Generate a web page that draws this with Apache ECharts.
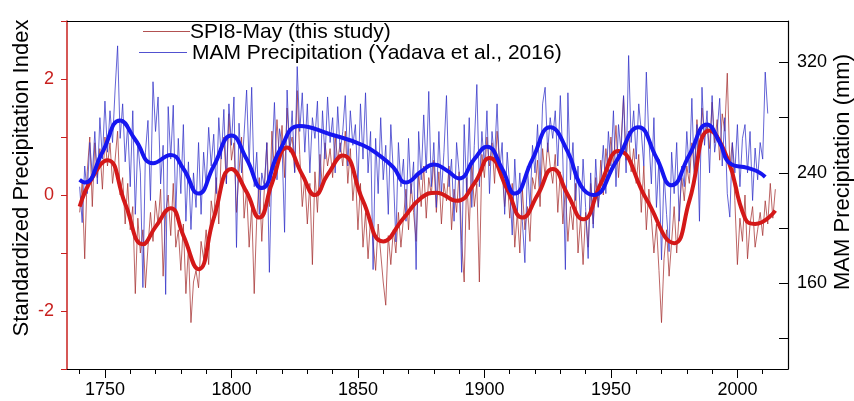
<!DOCTYPE html>
<html>
<head>
<meta charset="utf-8">
<script src="https://cdn.jsdelivr.net/npm/echarts@6/dist/echarts.min.js"></script>
<style>html,body{margin:0;padding:0;background:#fff}#c{width:854px;height:401px}</style>
</head>
<body>
<div id="c"></div>
<script>
// ---- data ----
var spiStartYear = 1740;
var spiValues = [
 -0.3, 0.2, -1.1, 0.4, 1.0, -0.2, 0.9, 0.3, 0.8, 0.1,
 1.0, 0.5, 0.9, 0.2, 0.6, 1.1, 0.0, 0.3, -0.5, 0.2,
 -0.6, -0.2, -1.7, -0.4, -1.0, -0.6, -1.6, -0.9, -0.3, -0.8,
 -0.1, -0.5, 0.1, -1.4, -0.3, 0.0, -0.7, 0.2, -0.9, -0.6,
 -1.3, -0.5, -1.7, -0.9, -2.2, -1.5, -1.3, -1.6, -0.8, -1.1,
 -0.6, -1.2, -0.1, -0.4, 0.3, -0.5, 0.8, 1.0, 0.2, 1.4,
 0.6, 0.9, -0.3, 0.4, 1.0, -0.4, 0.1, -0.9, -0.2, -1.7,
 -0.4, 0.3, -0.8, 0.1, 0.9, -0.2, 1.1, 0.4, 1.3, 0.6,
 1.2, 0.3, 1.5, 0.8, 1.0, 0.4, 1.8, 0.7, -0.2, 0.3,
 -0.5, 0.2, -1.2, 0.4, -0.3, 0.7, 0.1, 0.9, 0.5, 0.8,
 0.3, 1.0, 0.6, 0.9, 0.5, 1.1, 0.2, 0.8, -0.1, 0.4,
 -0.6, 0.2, -0.9, -0.3, -1.1, -0.4, -0.8, -1.3, -0.5, -1.0,
 -1.5, -1.9, -0.7, -1.2, -0.6, -1.0, -0.3, -0.9, -0.4, 0.1,
 -0.6, 0.2, -0.3, -0.8, 0.4, -0.2, 0.5, -0.4, 0.3, 0.0,
 0.6, -0.3, 0.4, -0.5, 0.2, -0.1, 0.5, -0.6, 0.1, -0.3,
 0.4, -0.8, -1.5, 0.3, -0.6, 0.6, -0.2, 0.2, -1.5, 0.7,
 0.3, 1.0, 0.5, 0.9, 0.2, 1.1, 0.6, 0.4, -0.2, 0.3,
 -0.4, 0.2, -0.9, -0.3, -1.0, 0.1, -0.6, -0.2, -0.8, 0.3,
 0.1, 0.6, -0.2, 0.8, 0.3, 0.9, 0.5, 0.2, 0.7, -0.3,
 0.4, -0.5, 0.1, -0.8, -0.2, -0.6, 0.2, -1.0, -0.4, -1.2,
 -0.3, -0.9, 0.2, -0.5, 0.3, -0.2, 0.6, 0.0, 0.8, 0.4,
 1.0, 0.5, 1.2, 0.3, 0.9, 1.7, 0.6, 1.1, 0.4, 0.8,
 0.2, 0.7, -0.3, 0.5, -0.6, 0.1, -0.4, -1.0, -0.5, -1.3,
 -2.2, -1.1, -0.6, -1.4, -0.8, -0.2, -1.0, -0.3, 0.3, -0.1,
 0.5, 0.2, 0.9, 0.4, 1.3, 0.7, 1.5, 1.0, 1.2, 0.8,
 1.6, 0.9, 1.3, 0.6, 1.4, 1.1, 2.1, 0.5, 0.9, -0.1,
 -1.2, -0.4, -0.8, 0.0, -1.1, -0.5, -0.2, -0.9, -0.6, -0.3,
 -0.7, -0.1, -0.5, 0.2, -0.4, 0.1
];
var mamStartYear = 1740;
var mamValues = [
 230, 204, 245, 225, 262, 238, 270, 232, 280, 250,
 292, 255, 285, 262, 300, 332, 265, 290, 248, 275,
 230, 285, 210, 262, 240, 157, 255, 278, 220, 306,
 270, 295, 232, 260, 152, 288, 250, 289, 210, 265,
 225, 275, 205, 248, 199, 240, 215, 262, 210, 255,
 230, 273, 245, 268, 225, 280, 250, 286, 232, 290,
 260, 295, 186, 276, 240, 268, 300, 245, 302, 230,
 255, 210, 240, 230, 262, 168, 248, 291, 235, 272,
 260, 197, 300, 255, 285, 240, 317, 270, 298, 255,
 290, 240, 280, 265, 292, 230, 285, 250, 295, 262,
 280, 240, 288, 255, 270, 296, 245, 285, 260, 275,
 230, 290, 250, 298, 240, 270, 170, 265, 225, 280,
 235, 260, 210, 275, 240, 190, 262, 230, 250, 205,
 265, 225, 248, 170, 270, 235, 282, 240, 299, 230,
 262, 215, 270, 225, 255, 296, 230, 250, 205, 262,
 240, 168, 275, 225, 280, 215, 260, 304, 230, 270,
 245, 285, 225, 270, 250, 290, 240, 262, 210, 255,
 230, 195, 250, 212, 240, 205, 175, 245, 215, 260,
 240, 275, 230, 290, 302, 255, 280, 265, 285, 245,
 296, 250, 170, 298, 235, 262, 220, 245, 205, 250,
 215, 178, 240, 200, 250, 215, 235, 260, 225, 270,
 245, 285, 230, 275, 255, 296, 240, 325, 262, 285,
 250, 290, 270, 245, 313, 265, 232, 280, 215, 250,
 177, 240, 210, 183, 255, 225, 262, 205, 245, 230,
 270, 240, 294, 235, 275, 205, 302, 260, 285, 240,
 296, 255, 270, 294, 245, 280, 225, 208, 262, 240,
 275, 230, 265, 275, 240, 270, 220, 258, 235, 262,
 250, 313, 283
];
var spiSmoothYears = [1740,1745,1751,1758,1765,1770,1776,1781,1787,1793,1800,1806,1811,1816,1822,1828,1833,1838,1844,1852,1860,1868,1875,1881,1889,1896,1902,1909,1915,1921,1927,1933,1939,1946,1953,1964,1975,1981,1989,1996,2003,2007,2015];
var spiSmoothValues = [-0.2,0.3,0.6,-0.15,-0.85,-0.55,-0.23,-0.7,-1.28,-0.4,0.45,0.05,-0.39,0.2,0.82,0.35,0.0,0.35,0.68,-0.1,-0.8,-0.4,-0.05,0.04,-0.1,0.2,0.64,0.1,-0.39,0.0,0.45,0.0,-0.42,0.2,0.76,-0.07,-0.83,-0.1,1.11,0.64,-0.4,-0.5,-0.27];
var mamSmoothYears = [1740,1742,1749,1756,1762,1769,1776,1781,1787,1793,1800,1806,1812,1819,1827,1839,1852,1859,1864,1869,1875,1880,1885,1890,1896,1901,1907,1912,1919,1926,1933,1938,1943,1952,1961,1968,1974,1981,1988,1993,1997,2004,2008,2011];
var mamSmoothValues = [235,233,255,278,264,247,253,243,225,245,267,250,229,256,274,268,260,252,244,233,241,246,242,236,250,259,243,225,250,273,255,231,224,248,273,251,231,253,275,262,247,243.6,241,237];
var xMajorTicks = [1750,1800,1850,1900,1950,2000];
var xMinorTicks = [1740,1750,1760,1770,1780,1790,1800,1810,1820,1830,1840,1850,1860,1870,1880,1890,1900,1910,1920,1930,1940,1950,1960,1970,1980,1990,2000,2010];
var rightTicks = [120,160,200,240,280,320];
var rightLabels = [160,240,320];
var legendNames = ['SPI8-May (this study)', 'MAM Precipitation (Yadava et al., 2016)'];

function pairs(start, vals){ return vals.map(function(v,i){ return [start+i, v]; }); }
function zip(xs, ys){ return xs.map(function(x,i){ return [x, ys[i]]; }); }

var FONT = '"Liberation Sans", Arial, sans-serif';
var AXRED = '#c8201e';
var chart = echarts.init(document.getElementById('c'), null, {renderer:'canvas'});
chart.setOption({
  animation:false,
  grid:{left:67, right:66, top:21, bottom:32, containLabel:false},
  xAxis:[
    {type:'value', min:1735, max:2020, position:'bottom',
     axisLine:{onZero:false, lineStyle:{color:'#000', width:1.2}},
     axisTick:{customValues:xMajorTicks, length:9, lineStyle:{color:'#000'}},
     axisLabel:{customValues:xMajorTicks, color:'#000', fontSize:18, fontFamily:FONT, margin:12,
       formatter:function(v){ return String(v); }},
     splitLine:{show:false}},
    {type:'value', min:1735, max:2020, position:'bottom',
     axisLine:{show:false, onZero:false},
     axisTick:{customValues:xMinorTicks, length:5, lineStyle:{color:'#000'}},
     axisLabel:{show:false}, splitLine:{show:false}},
    {type:'value', min:1735, max:2020, position:'top',
     axisLine:{onZero:false, lineStyle:{color:'#000', width:1.2}},
     axisTick:{show:false}, axisLabel:{show:false}, splitLine:{show:false}}
  ],
  yAxis:[
    {type:'value', min:-3, max:3, interval:1, position:'left',
     axisLine:{show:true, onZero:false, lineStyle:{color:AXRED, width:1.5}},
     axisTick:{show:true, length:6, lineStyle:{color:AXRED}},
     axisLabel:{color:AXRED, fontSize:18, fontFamily:FONT, margin:13,
       formatter:function(v){ return (Math.round(v)%2===0) ? String(v) : ''; }},
     splitLine:{show:false}},
    {type:'value', min:98, max:350, position:'right',
     axisLine:{show:true, onZero:false, lineStyle:{color:'#000', width:1.2}},
     axisTick:{show:true, inside:true, length:9, customValues:rightTicks, lineStyle:{color:'#000'}},
     axisLabel:{customValues:rightLabels, color:'#000', fontSize:18, fontFamily:FONT, margin:9},
     splitLine:{show:false}}
  ],
  series:[
    {name:legendNames[0], type:'line', xAxisIndex:0, yAxisIndex:0, data:pairs(spiStartYear, spiValues),
     symbol:'none', lineStyle:{color:'rgba(165,50,50,0.75)', width:1}, z:2},
    {name:legendNames[1], type:'line', xAxisIndex:0, yAxisIndex:1, data:pairs(mamStartYear, mamValues),
     symbol:'none', lineStyle:{color:'rgba(50,50,200,0.75)', width:1}, z:3},
    {name:'SPI smoothed', type:'line', xAxisIndex:0, yAxisIndex:0, data:zip(spiSmoothYears, spiSmoothValues),
     symbol:'none', smooth:0.5, lineStyle:{color:'#d41818', width:4}, z:4},
    {name:'MAM smoothed', type:'line', xAxisIndex:0, yAxisIndex:1, data:zip(mamSmoothYears, mamSmoothValues),
     symbol:'none', smooth:0.5, lineStyle:{color:'#1616f0', width:4}, z:5}
  ],
  graphic:[
    {type:'line', shape:{x1:143,y1:31.5,x2:190,y2:31.5}, style:{stroke:'rgba(165,50,50,0.85)', lineWidth:1.2}, z:10},
    {type:'text', x:190, y:32, style:{text:legendNames[0], font:'21px '+FONT, fill:'#000', verticalAlign:'middle', align:'left'}, z:10},
    {type:'line', shape:{x1:139,y1:52.5,x2:187,y2:52.5}, style:{stroke:'rgba(50,50,200,0.85)', lineWidth:1.2}, z:10},
    {type:'text', x:192, y:53, style:{text:legendNames[1], font:'21px '+FONT, fill:'#000', verticalAlign:'middle', align:'left'}, z:10},
    {type:'text', x:22, y:178, rotation:Math.PI/2, style:{text:'Standardized Precipitation Index', font:'22px '+FONT, fill:'#000', align:'center', verticalAlign:'middle'}},
    {type:'text', x:843, y:172, rotation:Math.PI/2, style:{text:'MAM Precipitation (mm)', font:'22px '+FONT, fill:'#000', align:'center', verticalAlign:'middle'}}
  ]
});
</script>
</body>
</html>
